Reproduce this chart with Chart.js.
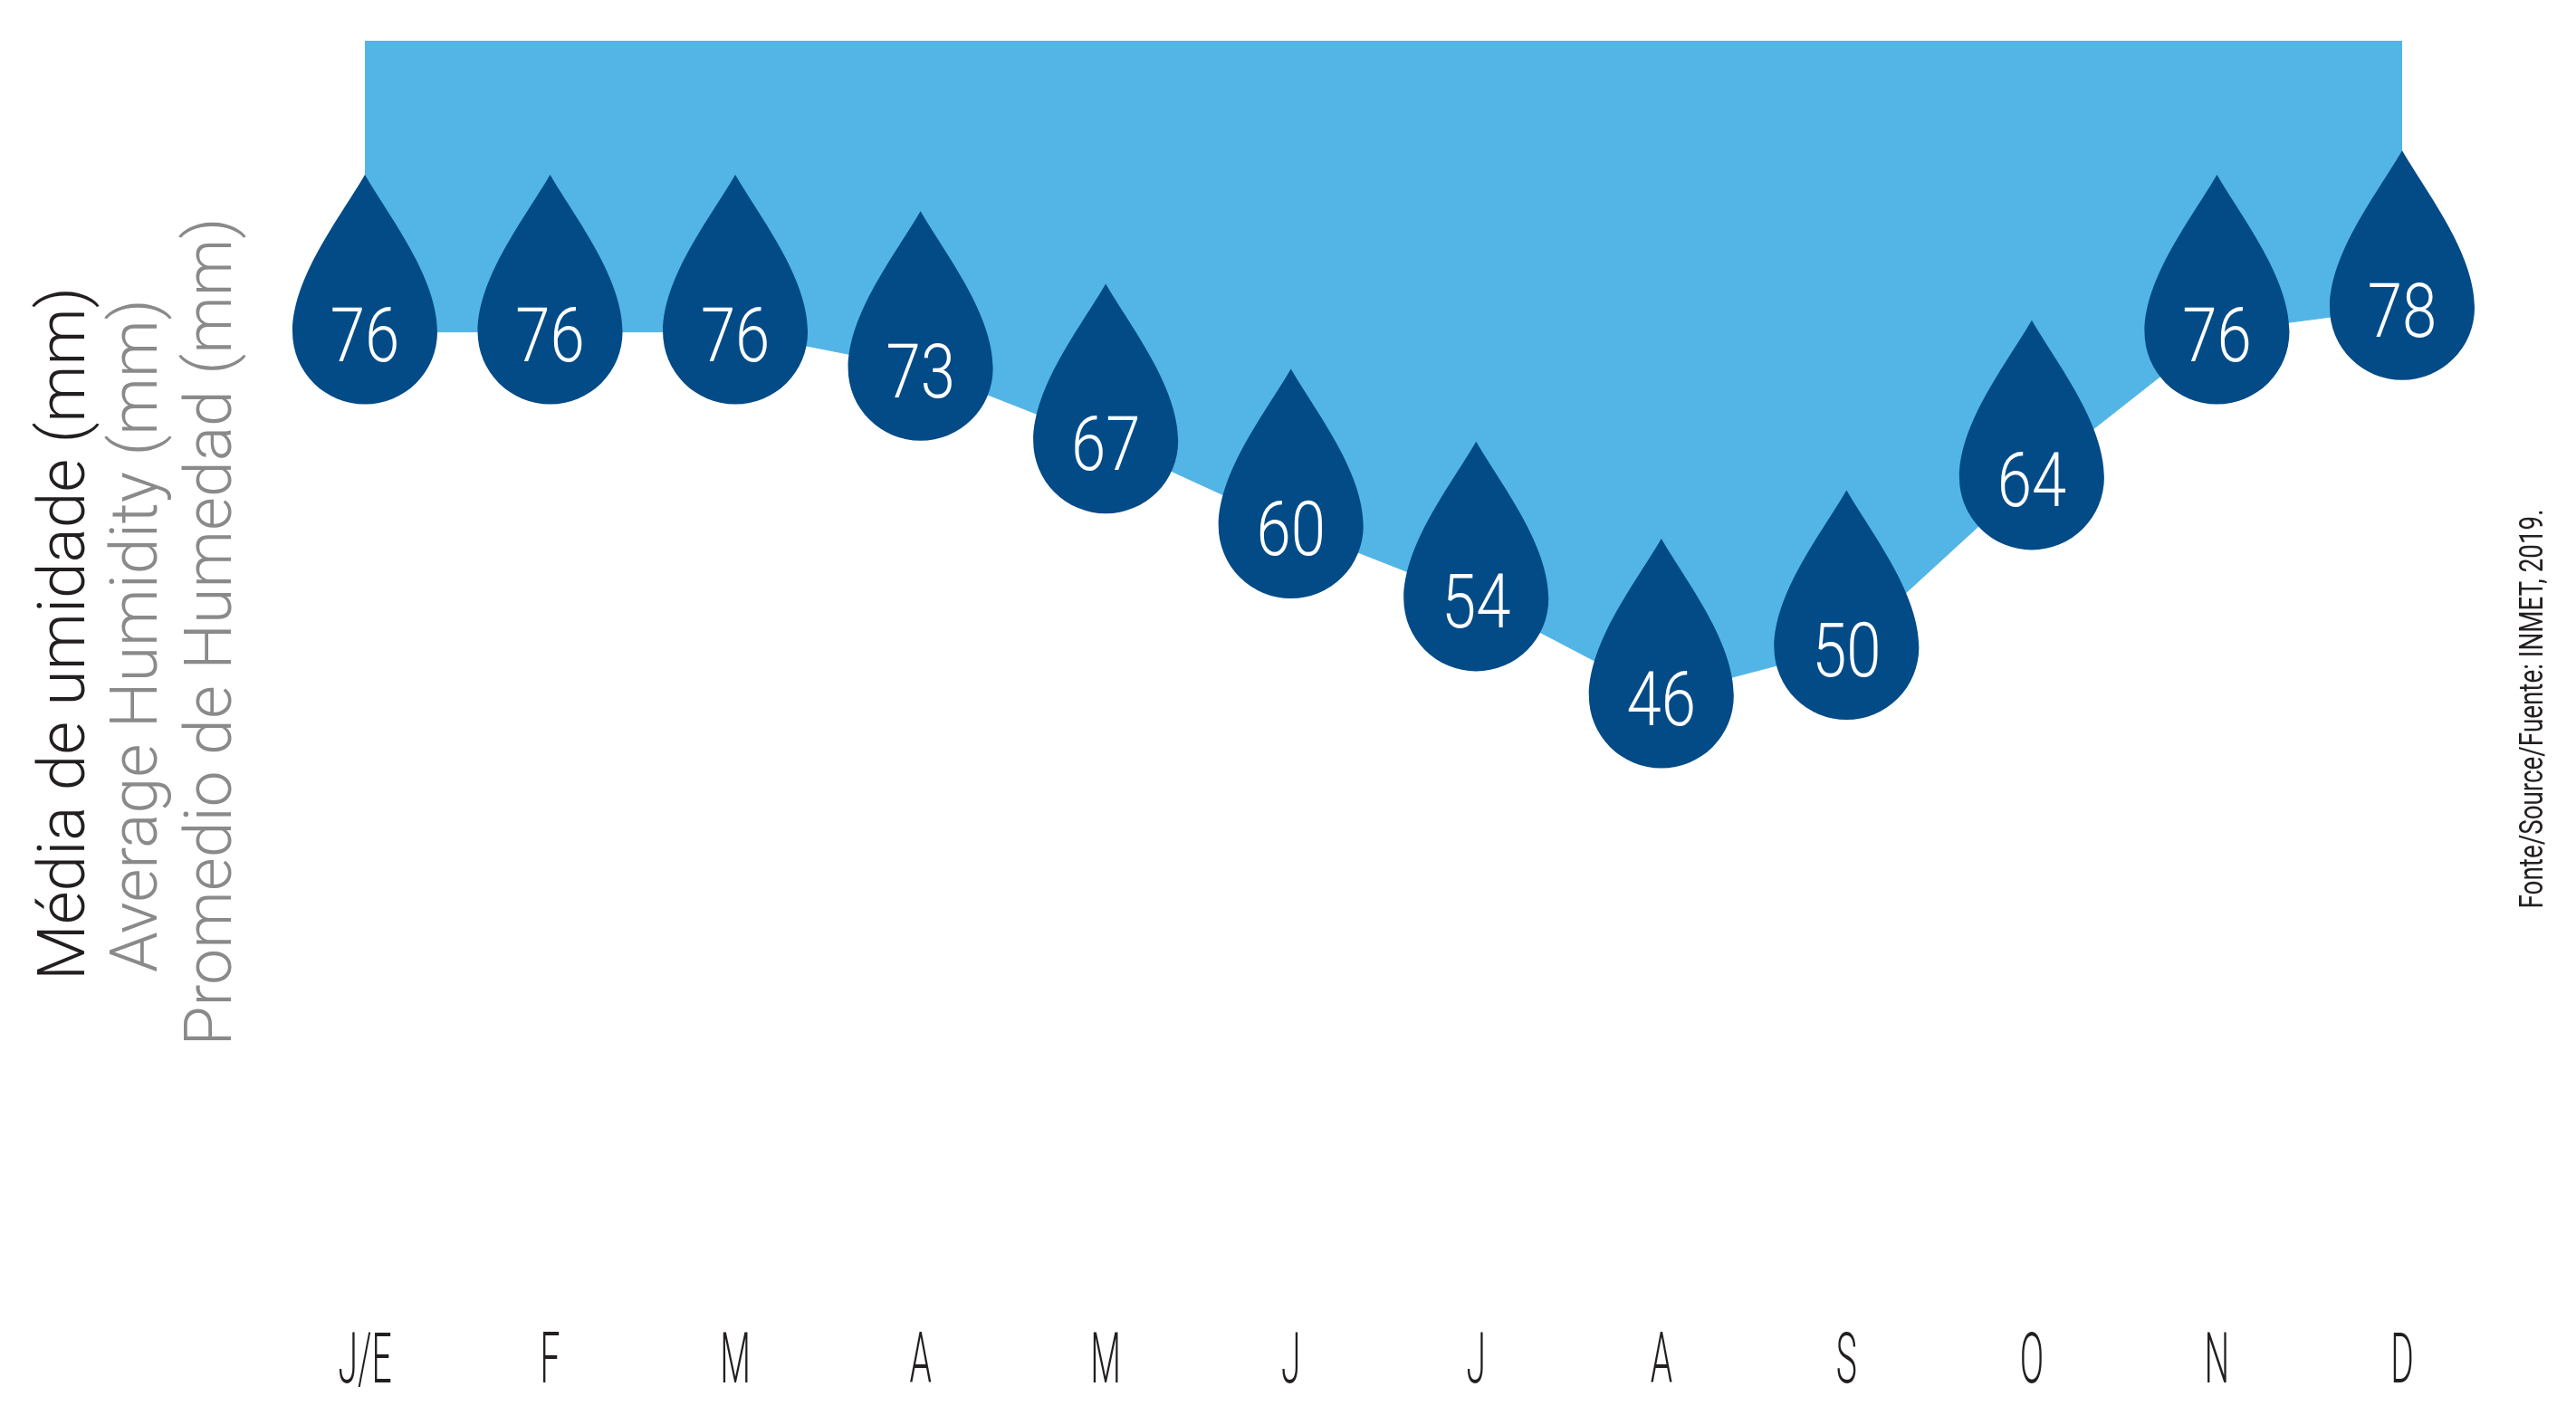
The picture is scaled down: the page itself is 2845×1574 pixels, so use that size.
<!DOCTYPE html>
<html>
<head>
<meta charset="utf-8">
<script src="https://cdn.jsdelivr.net/npm/chart.js@4.4.1/dist/chart.umd.min.js"></script>
<style>
  html, body { margin: 0; padding: 0; background: #fff; }
  #wrap { width: 2845px; height: 1574px; position: relative; }
</style>
</head>
<body>
<div id="wrap"><canvas id="humidityChart"></canvas></div>
<script>
const months = ['J/E', 'F', 'M', 'A', 'M', 'J', 'J', 'A', 'S', 'O', 'N', 'D'];
const humidity = [76, 76, 76, 73, 67, 60, 54, 46, 50, 64, 76, 78];
const yMin = 0;
const yMax = 100;
const titleLines = ['Média de umidade (mm)', 'Average Humidity (mm)', 'Promedio de Humedad (mm)'];
const sourceText = 'Fonte/Source/Fuente: INMET, 2019.';

const skyBlue = '#52b5e6';
const dropBlue = '#024b87';
const ink = '#231f20';
const grey = '#8a8a8a';

// draws text squeezed horizontally (the original uses a condensed DIN face)
function squeezedText(ctx, text, x, y, sx) {
  ctx.save();
  ctx.translate(x, y);
  ctx.scale(sx, 1);
  ctx.fillText(text, 0, 0);
  ctx.restore();
}

// rotated text, stretched to a given length along its baseline
function verticalText(ctx, text, cx, cy, len) {
  ctx.save();
  ctx.translate(cx, cy);
  ctx.rotate(-Math.PI / 2);
  const w = ctx.measureText(text).width;
  ctx.scale(len / w, 1);
  ctx.textAlign = 'center';
  ctx.fillText(text, 0, 0);
  ctx.restore();
}

function drawDrop(ctx, x, y, r) {
  const h = r * 2.17;
  ctx.beginPath();
  ctx.moveTo(x, y - h);
  ctx.bezierCurveTo(x + r * 0.35, y - h + r * 0.6, x + r, y - r * 0.75, x + r, y);
  ctx.arc(x, y, r, 0, Math.PI);
  ctx.bezierCurveTo(x - r, y - r * 0.75, x - r * 0.35, y - h + r * 0.6, x, y - h);
  ctx.closePath();
  ctx.fill();
}

const dropsPlugin = {
  id: 'drops',
  afterDatasetsDraw(chart) {
    const ctx = chart.ctx;
    const meta = chart.getDatasetMeta(0);
    ctx.save();
    meta.data.forEach((pt, i) => {
      ctx.fillStyle = dropBlue;
      drawDrop(ctx, pt.x, pt.y, 80);
      ctx.fillStyle = '#fff';
      ctx.font = '300 84px Roboto';
      ctx.textAlign = 'center';
      ctx.textBaseline = 'alphabetic';
      squeezedText(ctx, String(humidity[i]), pt.x, pt.y + 32, 0.82);
    });
    ctx.restore();
  }
};

const textPlugin = {
  id: 'texts',
  afterDraw(chart) {
    const ctx = chart.ctx;
    const xs = chart.scales.x;
    ctx.save();

    // month letters
    ctx.fillStyle = ink;
    ctx.font = '300 78px Roboto';
    ctx.textAlign = 'center';
    ctx.textBaseline = 'alphabetic';
    months.forEach((m, i) => squeezedText(ctx, m, xs.getPixelForValue(i), 1527, 0.5));

    // axis title, three languages
    ctx.font = '300 72px Roboto';
    ctx.fillStyle = ink;
    verticalText(ctx, titleLines[0], 93, 700, 766);
    ctx.fillStyle = grey;
    verticalText(ctx, titleLines[1], 173, 702, 744);
    verticalText(ctx, titleLines[2], 255, 698, 915);

    // source
    ctx.fillStyle = ink;
    ctx.font = '400 37px Roboto';
    verticalText(ctx, sourceText, 2808, 783, 441);

    ctx.restore();
  }
};

new Chart(document.getElementById('humidityChart'), {
  type: 'line',
  data: {
    labels: months,
    datasets: [{
      data: humidity,
      fill: 'end',
      backgroundColor: skyBlue,
      borderColor: skyBlue,
      borderWidth: 1,
      pointRadius: 0,
      tension: 0
    }]
  },
  options: {
    responsive: true,
    maintainAspectRatio: false,
    animation: false,
    layout: { padding: { left: 403, right: 192, top: 45, bottom: 189 } },
    plugins: { legend: { display: false }, tooltip: { enabled: false } },
    scales: {
      x: { display: false },
      y: { display: false, min: yMin, max: yMax }
    }
  },
  plugins: [dropsPlugin, textPlugin]
});
</script>
</body>
</html>
